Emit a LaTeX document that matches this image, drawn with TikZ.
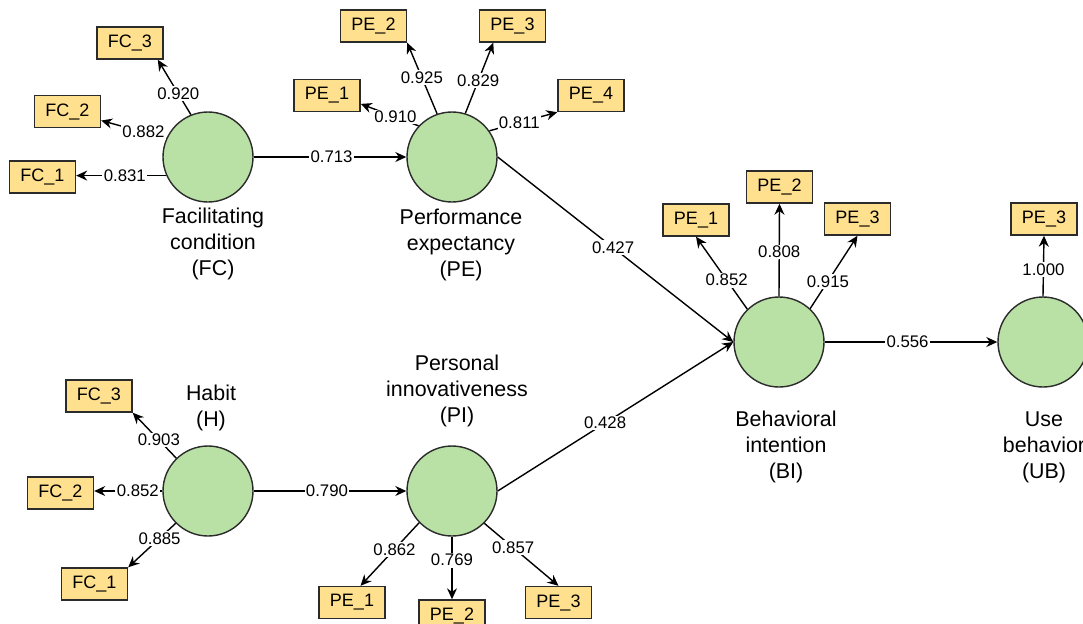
\documentclass[tikz,border=0pt]{standalone}
\usepackage{fontspec}
\setmainfont{Liberation Sans}
\usetikzlibrary{arrows.meta}
\definecolor{lvgreen}{HTML}{B9E0A5}
\definecolor{indyellow}{HTML}{FFE08E}
\definecolor{edgegray}{HTML}{2B2B2B}
\tikzset{
  lv/.style={circle, draw=edgegray, fill=lvgreen, line width=0.7pt, minimum size=45pt, inner sep=0pt},
  ind/.style={rectangle, draw=edgegray, fill=indyellow, line width=0.7pt, minimum width=33pt, minimum height=16pt, inner sep=0pt, font=\fontsize{9}{10}\selectfont},
  lbl/.style={fill=white, inner sep=0.7pt, font=\fontsize{8.4}{10}\selectfont},
  lvname/.style={align=center, inner sep=0pt, font=\fontsize{10.7}{13}\selectfont},
  conn/.style={-{Stealth[length=5.5pt,width=5pt]}, line width=0.7pt, draw=black}
}
\begin{document}
\begin{tikzpicture}[x=0.5pt,y=-0.5pt]
\useasboundingbox[fill=white] (0,0) rectangle (1083,623);

% latent variables
\node[lv] (fc) at (208,157) {};
\node[lv] (pe) at (452,157) {};
\node[lv] (h)  at (208,491) {};
\node[lv] (pi) at (452,491) {};
\node[lv] (bi) at (779,342) {};
\node[lv] (ub) at (1043,342) {};

% names
\node[lvname] (fcname) at (213,244) {Facilitating\\condition\\(FC)};
\node[lvname] (pename) at (461,245) {Performance\\expectancy\\(PE)};
\node[lvname] (hname)  at (211,408) {Habit\\(H)};
\node[lvname] (piname) at (457,391) {Personal\\innovativeness\\(PI)};
\node[lvname] (biname) at (786,447) {Behavioral\\intention\\(BI)};
\node[lvname] (ubname) at (1044,447) {Use\\behavior\\(UB)};

% indicators FC
\node[ind] (fc3) at (130,43) {FC\_3};
\node[ind] (fc2) at (67.5,111.5) {FC\_2};
\node[ind] (fc1) at (42.5,177) {FC\_1};
% indicators PE
\node[ind] (pe1) at (327,95.5) {PE\_1};
\node[ind] (pe2) at (373.5,26) {PE\_2};
\node[ind] (pe3) at (512.5,26) {PE\_3};
\node[ind] (pe4) at (591,95.5) {PE\_4};
% indicators BI
\node[ind] (bpe1) at (696,220) {PE\_1};
\node[ind] (bpe2) at (779.5,187) {PE\_2};
\node[ind] (bpe3) at (857.5,219) {PE\_3};
% indicator UB
\node[ind] (upe3) at (1044,219) {PE\_3};
% indicators H
\node[ind] (hfc3) at (99,396) {FC\_3};
\node[ind] (hfc2) at (60.5,493) {FC\_2};
\node[ind] (hfc1) at (94.5,584) {FC\_1};
% indicators PI
\node[ind] (ppe1) at (352,602.5) {PE\_1};
\node[ind] (ppe2) at (452,616) {PE\_2};
\node[ind] (ppe3) at (558.5,602.5) {PE\_3};

% FC loadings
\draw[conn] (fc.112) -- node[lbl,pos=0.38] {0.920} (fc3.-31);
\draw[conn] (fc.156) -- node[lbl,pos=0.35] {0.882} (fc2.-15);
\draw[conn] (fc.204) -- node[lbl,pos=0.46] {0.831} (fc.204 -| fc1.east);

% PE loadings
\draw[conn] (pe.109) -- node[lbl,pos=0.51] {0.925} (pe2.south east);
\draw[conn] (pe.73) -- node[lbl,pos=0.46] {0.829} (pe3.221);
\draw[conn] (pe.137) -- node[lbl,pos=0.40] {0.910} (pe1.-14);
\draw[conn] (pe.35) -- node[lbl,pos=0.44] {0.811} (pe4.south west);

% BI loadings
\draw[conn] (bi.134) -- node[lbl,pos=0.40] {0.852} (bpe1.south);
\draw[conn] (bi.north) -- node[lbl,pos=0.48] {0.808} (bpe2.south);
\draw[conn] (bi.47) -- node[lbl,pos=0.375] {0.915} (bpe3.south);

% UB loading
\draw[conn] (ub.north) -- node[lbl,pos=0.44] {1.000} (upe3.south);

% H loadings
\draw[conn] (h.134) -- node[lbl,pos=0.40] {0.903} (hfc3.south east);
\draw[conn] (h.west) -- node[lbl,pos=0.36] {0.852} (h.west -| hfc2.east);
\draw[conn] (h.225) -- node[lbl,pos=0.34] {0.885} (hfc1.north east);

% PI loadings
\draw[conn] (pi.224) -- node[lbl,pos=0.42] {0.862} (ppe1.63);
\draw[conn] (pi.south) -- node[lbl,pos=0.375] {0.769} (ppe2.north);
\draw[conn] (pi.-45) -- node[lbl,pos=0.39] {0.857} (ppe3.north);

% structural paths
\draw[conn] (fc.east) -- node[lbl,pos=0.51] {0.713} (pe.west);
\draw[conn] (h.east) -- node[lbl,pos=0.48] {0.790} (pi.west);
\draw[conn] (pe.east) -- node[lbl,pos=0.49] {0.427} (bi.west);
\draw[conn] (pi.east) -- node[lbl,pos=0.456] {0.428} (bi.west);
\draw[conn] (bi.east) -- node[lbl,pos=0.48] {0.556} (ub.west);
\end{tikzpicture}
\end{document}
